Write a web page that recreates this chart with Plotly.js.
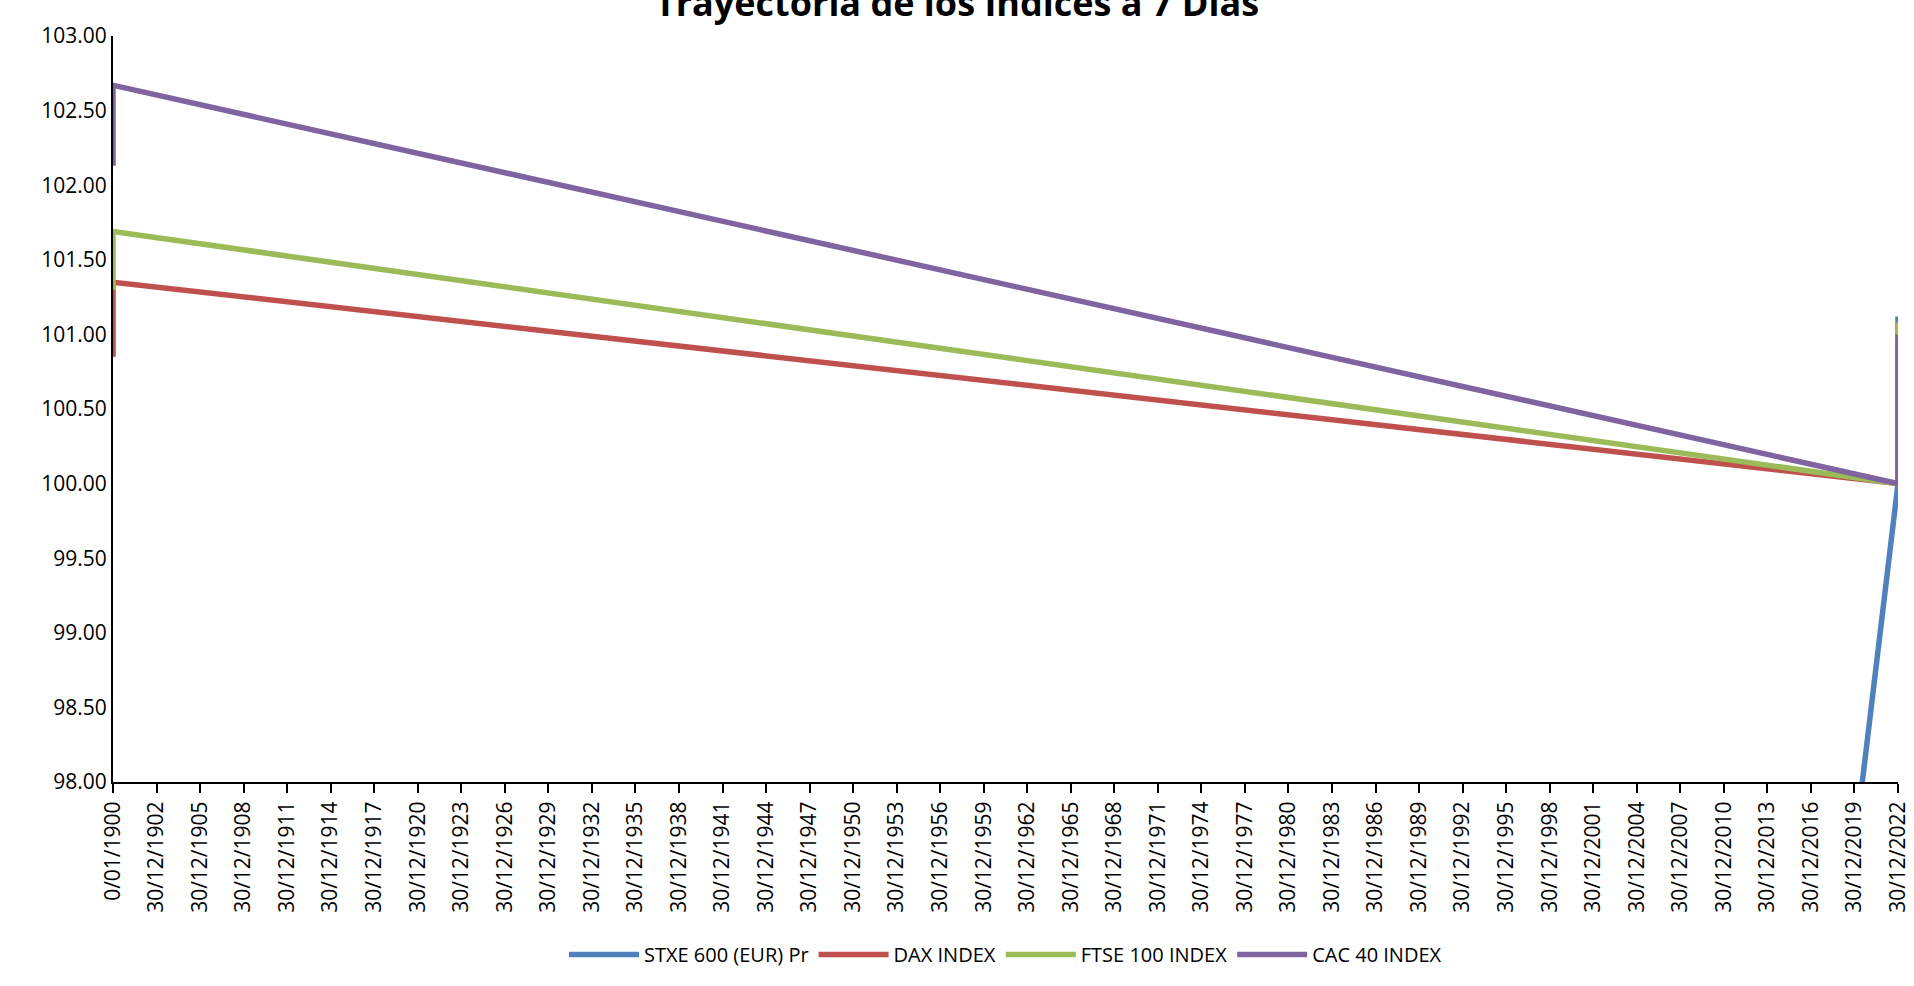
<!DOCTYPE html>
<html>
<head>
<meta charset="utf-8">
<script src="https://cdn.plot.ly/plotly-3.0.1.min.js"></script>
<style>html,body{margin:0;padding:0;background:#fff}#chart{width:1914px;height:986px}</style>
</head>
<body>
<div id="chart"></div>
<script>
// Excel date serials: empty dates read as 0 (0/01/1900), last dates at end of 2022
const dates = [0, 0, 44936, 44936];
const stxe = [0, 0, 100.0, 101.12];
const dax = [100.85, 101.35, 100.0, 100.98];
const ftse = [101.3, 101.69, 100.0, 101.08];
const cac = [102.13, 102.67, 100.0, 101.0];

const tickVals = [];
const tickText = [];
for (let i = 0; i <= 41; i++) {
  tickVals.push(i * 1096);
  tickText.push(i === 0 ? "0/01/1900" : "30/12/" + (1899 + 3 * i));
}

const mk = (name, y, color) => ({
  name: name, x: dates, y: y, type: "scatter", mode: "lines",
  line: { color: color, width: 5.5 }
});

const traces = [
  mk("STXE 600 (EUR) Pr", stxe, "#4f81bd"),
  mk("DAX INDEX", dax, "#c0504d"),
  mk("FTSE 100 INDEX", ftse, "#9bbb59"),
  mk("CAC 40 INDEX", cac, "#8064a2"),
];

const layout = {
  width: 1914, height: 986,
  margin: { l: 113, r: 16, t: 36, b: 185 },
  font: { family: "Open Sans, Liberation Sans, sans-serif", size: 21, color: "#000" },
  title: { text: "<b>Trayectoria de los Índices a 7 Días</b>", x: 0.5, y: 0.997, yanchor: "middle",
    font: { size: 36, family: "Liberation Sans Narrow, Open Sans, sans-serif" } },
  showlegend: true,
  legend: { orientation: "h", x: 0.5, xanchor: "center", y: -0.205, yanchor: "top",
    font: { size: 20 }, itemwidth: 70 },
  xaxis: {
    range: [0, 44936], tickvals: tickVals, ticktext: tickText, tickangle: -90,
    showgrid: false, zeroline: false, showline: true, linecolor: "#000", linewidth: 2,
    ticks: "outside", ticklen: 9, tickcolor: "#000", tickwidth: 2, tickfont: { size: 21 }
  },
  yaxis: {
    range: [98, 103], dtick: 0.5, tickformat: ".2f",
    showgrid: false, zeroline: false, showline: true, linecolor: "#000", linewidth: 2,
    ticks: "", tickfont: { size: 21 }
  },
  plot_bgcolor: "#fff", paper_bgcolor: "#fff"
};

Plotly.newPlot("chart", traces, layout, { displayModeBar: false });
</script>
</body>
</html>
